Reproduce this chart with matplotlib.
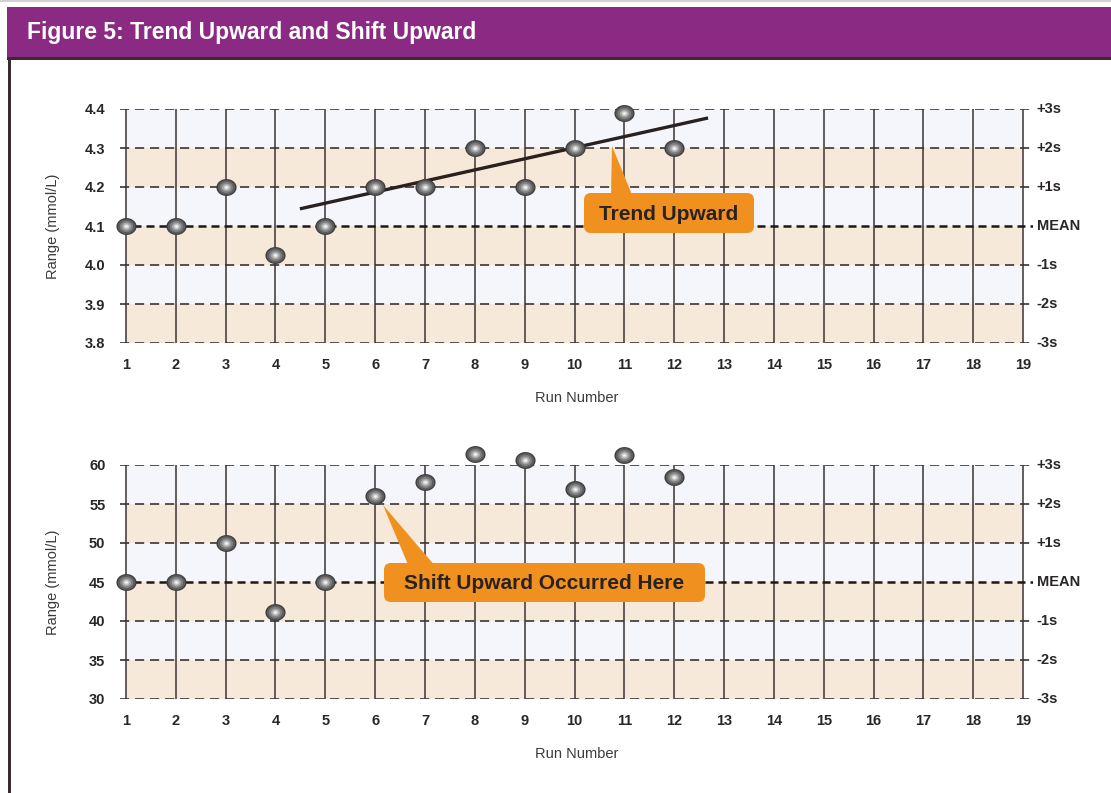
import matplotlib
matplotlib.use("Agg")
import matplotlib.pyplot as plt
import numpy as np
from matplotlib.path import Path
from matplotlib.patches import FancyBboxPatch, Polygon, Rectangle

plt.rcParams['font.family'] = ['Liberation Sans', 'DejaVu Sans']

# ---------------- data ----------------
run_ticks = list(range(1, 20))
runs = list(range(1, 13))
top_values = [4.10, 4.10, 4.20, 4.026, 4.10, 4.20, 4.20, 4.30, 4.20, 4.30, 4.39, 4.30]
bottom_values = [45, 45, 50, 41.2, 45, 56.0, 57.8, 61.4, 60.6, 56.9, 61.3, 58.5]
top_yticks = [3.8, 3.9, 4.0, 4.1, 4.2, 4.3, 4.4]
top_yticklabels = ['3.8', '3.9', '4.0', '4.1', '4.2', '4.3', '4.4']
bottom_yticks = [30, 35, 40, 45, 50, 55, 60]
bottom_yticklabels = ['30', '35', '40', '45', '50', '55', '60']
sigma_labels = ['-3s', '-2s', '-1s', 'MEAN', '+1s', '+2s', '+3s']
trend_x = [4.49, 12.68]
trend_y = [4.144, 4.377]
title = "Figure 5: Trend Upward and Shift Upward"
ylabel = "Range (mmol/L)"
xlabel = "Run Number"

# ---------------- style ----------------
W, H = 1111, 793
fig = plt.figure(figsize=(W / 100, H / 100), dpi=100)
fig.patch.set_facecolor('white')

BLUE = '#F4F6FC'
BEIGE = '#F6E9DA'
GRID = '#3c3333'
TXT = '#2a2626'

# ellipse marker
t = np.linspace(0, 2 * np.pi, 60)
ell = Path(np.column_stack([np.cos(t), 0.84 * np.sin(t)]), closed=True)


def px_axes(left, top, right, bottom):
    return [left / W, 1 - bottom / H, (right - left) / W, (bottom - top) / H]


def draw_panel(ax, yticks, yticklabels, values):
    ax.set_xlim(0.88, 19.2)
    ax.set_ylim(yticks[0], yticks[-1])
    for s in ax.spines.values():
        s.set_visible(False)
    ax.set_facecolor('none')
    # bands
    for i in range(len(yticks) - 1):
        col = BEIGE if i % 2 == 0 else BLUE
        ax.fill_between([run_ticks[0], run_ticks[-1]], yticks[i], yticks[i + 1],
                        color=col, lw=0, zorder=0)
    # vertical lines
    for x in run_ticks:
        ax.plot([x, x], [yticks[0], yticks[-1]], color=GRID, lw=1.1, zorder=1)
    # horizontal dashed lines
    for i, y in enumerate(yticks):
        if i == 3:
            ax.axhline(y, color='#1c1818', lw=1.8, dashes=(3.2, 2.0), zorder=2)
        else:
            ax.axhline(y, color='#3a3434', lw=1.2, dashes=(5.5, 3.5), zorder=2)
    # right labels
    for y, lab in zip(yticks, sigma_labels):
        ax.text(1.004, y, lab, transform=ax.get_yaxis_transform(), ha='left',
                va='center', fontsize=10.5, fontweight='bold', color=TXT)
    ax.set_xticks(run_ticks)
    ax.set_xticklabels([str(r) for r in run_ticks], fontsize=10.5, fontweight='bold', color=TXT)
    ax.set_yticks(yticks)
    ax.set_yticklabels(yticklabels, fontsize=10.5, fontweight='bold', color=TXT)
    ax.tick_params(axis='x', length=0, pad=11)
    ax.tick_params(axis='y', length=0, pad=10.5)
    ax.set_ylabel(ylabel, fontsize=10.5, color='#3a3a3a')
    ax.yaxis.set_label_coords(-0.066, 0.5)
    ax.set_xlabel(xlabel, fontsize=10.5, color='#3a3a3a')
    ax.xaxis.set_label_coords(0.500, -0.205)
    # spheres
    layers = [('#3e3e3e', 14.5), ('#5e5e5e', 12.5), ('#808080', 9.5), ('#a8a8a8', 6.5),
              ('#d0d0d0', 4.0), ('#f4f4f4', 2.0)]
    for c, ms in layers:
        ax.plot(runs, values, linestyle='none', marker=ell, markersize=ms,
                markerfacecolor=c, markeredgecolor='none', zorder=5, clip_on=False)


ax1 = fig.add_axes(px_axes(120, 109, 1033, 343))
draw_panel(ax1, top_yticks, top_yticklabels, top_values)
ax1.plot(trend_x, trend_y, color='#2b2020', lw=2.4, zorder=4, solid_capstyle='butt')

ax2 = fig.add_axes(px_axes(120, 465, 1033, 699))
draw_panel(ax2, bottom_yticks, bottom_yticklabels, bottom_values)

# ---------------- overlay (pixel coordinates) ----------------
ov = fig.add_axes([0, 0, 1, 1])
ov.set_xlim(0, W)
ov.set_ylim(H, 0)
ov.axis('off')
ov.patch.set_visible(False)

# top thin grey line
ov.add_patch(Rectangle((0, 0), W, 2, color='#d4d0d2', lw=0))
# header
ov.add_patch(Rectangle((7, 7), W - 7, 50, color='#8B2A82', lw=0))
ov.add_patch(Rectangle((7, 57), W - 7, 2.5, color='#3a2a32', lw=0))
ov.add_patch(Rectangle((8, 57), 3, H - 57, color='#3a2a32', lw=0))
ov.text(27, 33, title, color='white', fontsize=16.5, fontweight='bold',
        ha='left', va='center')

ORANGE = '#F0901F'


def callout(box, tip, base, label):
    x0, y0, x1, y1 = box
    ov.add_patch(Polygon([tip, (base[0], y0 + 4), (base[1], y0 + 4)], closed=True,
                         color=ORANGE, lw=0, zorder=3))
    ov.add_patch(FancyBboxPatch((x0, y0), x1 - x0, y1 - y0,
                                boxstyle='round,pad=0,rounding_size=7',
                                fc=ORANGE, ec='none', zorder=3))
    ov.text((x0 + x1) / 2, (y0 + y1) / 2 + 1, label, ha='center', va='center',
            fontsize=15, fontweight='bold', color='#2a2222', zorder=4)


callout((584, 193, 754, 233), (612, 146), (611, 633), 'Trend Upward')
callout((384, 563, 705, 602), (383, 505), (409, 436), 'Shift Upward Occurred Here')

fig.savefig('out.png', dpi=100)
